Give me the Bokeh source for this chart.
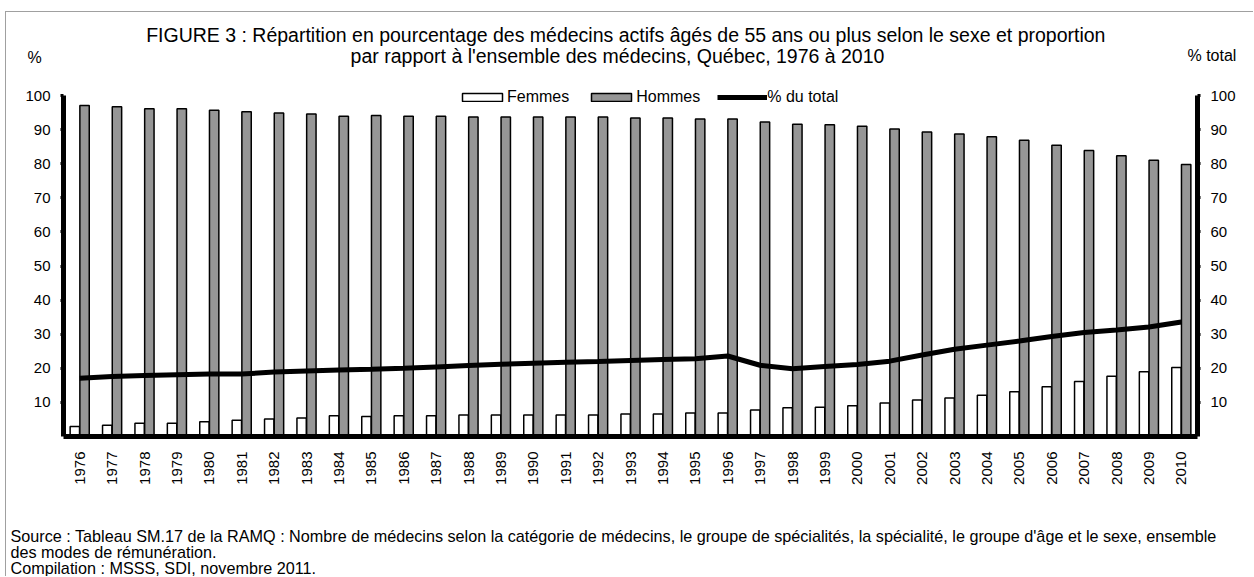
import math
from bokeh.plotting import figure
from bokeh.models import (ColumnDataSource, FactorRange, Range1d, LinearAxis,
                          FixedTicker, Label, Legend, LegendItem)
from bokeh.transform import dodge
from bokeh.embed import file_html
from bokeh.resources import INLINE

# ---------------- data ----------------
years = ["1976", "1977", "1978", "1979", "1980", "1981", "1982", "1983", "1984",
         "1985", "1986", "1987", "1988", "1989", "1990", "1991", "1992", "1993",
         "1994", "1995", "1996", "1997", "1998", "1999", "2000", "2001", "2002",
         "2003", "2004", "2005", "2006", "2007", "2008", "2009", "2010"]
femmes = [2.9, 3.3, 3.9, 3.9, 4.3, 4.8, 5.1, 5.4, 6.1, 5.9, 6.1, 6.1, 6.3, 6.3,
          6.3, 6.3, 6.3, 6.6, 6.6, 6.9, 6.9, 7.8, 8.4, 8.6, 9.0, 9.8, 10.7, 11.3,
          12.1, 13.1, 14.6, 16.1, 17.7, 19.0, 20.2]
hommes = [97.1, 96.7, 96.1, 96.1, 95.7, 95.2, 94.9, 94.6, 93.9, 94.1, 93.9, 93.9,
          93.7, 93.7, 93.7, 93.7, 93.7, 93.4, 93.4, 93.1, 93.1, 92.2, 91.6, 91.4,
          91.0, 90.2, 89.3, 88.7, 87.9, 86.9, 85.4, 83.9, 82.3, 81.0, 79.8]
total = [17.1, 17.6, 17.9, 18.1, 18.3, 18.3, 18.9, 19.2, 19.5, 19.7, 20.0, 20.4,
         20.8, 21.2, 21.5, 21.8, 22.0, 22.3, 22.6, 22.8, 23.6, 20.9, 19.9, 20.5,
         21.1, 22.1, 23.9, 25.6, 26.8, 28.0, 29.3, 30.5, 31.2, 32.1, 33.6]
y_ticks = [10, 20, 30, 40, 50, 60, 70, 80, 90, 100]

title1 = "FIGURE 3 : Répartition en pourcentage des médecins actifs âgés de 55 ans ou plus selon le sexe et  proportion"
title2 = "par rapport à l'ensemble des médecins, Québec, 1976 à 2010"
foot1 = ("Source :  Tableau SM.17 de la RAMQ : Nombre de médecins selon la catégorie de médecins, "
         "le groupe de spécialités, la spécialité, le groupe d'âge et le sexe, ensemble")
foot2 = "des modes de rémunération."
foot3 = "Compilation : MSSS, SDI, novembre 2011."

FONT = "Liberation Sans"
W = 1248  # inner width (page x 6..1254)
BORDER = "1px solid #a0a0a0"


def text_panel(h, y0, styles, margin):
    """Figure whose data coords equal page pixel coords (x 6..1254, y y0..y0+h)."""
    f = figure(width=W, height=h, x_range=Range1d(6, 6 + W),
               y_range=Range1d(y0 + h, y0), x_axis_type=None, y_axis_type=None,
               min_border=0, min_border_left=0, min_border_right=0,
               min_border_top=0, min_border_bottom=0,
               output_backend="svg", toolbar_location=None,
               styles=styles, margin=margin)
    f.outline_line_color = None
    f.xgrid.visible = False
    f.ygrid.visible = False
    return f


def lab(f, text, x, y, size, align="left"):
    f.add_layout(Label(x=x, y=y, text=text, text_font=FONT, text_font_size=size,
                       text_align=align, text_baseline="middle",
                       text_color="black"))


# ---------------- top panel (titles) ----------------
top = text_panel(70, 12, {"border-left": BORDER, "border-top": BORDER}, (11, 0, 0, 5))
lab(top, title1, 628, 34, "19.5px", "center")
lab(top, title2, 617, 55, "19.5px", "center")
lab(top, "%", 27, 57, "16px")
lab(top, "% total", 1187, 55, "16px")

# ---------------- main chart ----------------
src = ColumnDataSource(dict(year=years, femmes=femmes, hommes=hommes, total=total))
y_top = 100 + 10 / 3.41

p = figure(width=W, height=418,
           x_range=FactorRange(factors=years, range_padding=0),
           y_range=Range1d(0, y_top),
           output_backend="svg", toolbar_location=None,
           min_border_left=57, min_border_right=57,
           min_border_top=4, min_border_bottom=63,
           styles={"border-left": BORDER}, margin=(0, 0, 0, 5))
p.extra_y_ranges = {"total": Range1d(0, y_top)}
p.outline_line_color = None
p.xgrid.visible = False
p.ygrid.visible = False

rf = p.vbar(x=dodge("year", -0.15, range=p.x_range), top="femmes", width=0.29,
            source=src, fill_color="white", line_color="black", line_width=1.5)
rh = p.vbar(x=dodge("year", 0.15, range=p.x_range), top="hommes", width=0.29,
            source=src, fill_color="#969696", line_color="black", line_width=1.5)
rl = p.line(x="year", y="total", source=src, y_range_name="total",
            line_color="black", line_width=5)

xa = p.xaxis[0]
xa.axis_line_width = 5
xa.axis_line_color = "black"
xa.major_tick_line_color = None
xa.minor_tick_line_color = None
xa.major_label_orientation = math.pi / 2
xa.major_label_standoff = 9
xa.major_label_text_font = FONT
xa.major_label_text_font_size = "15px"
xa.major_label_text_color = "black"


def style_y(ax):
    ax.ticker = FixedTicker(ticks=y_ticks)
    ax.bounds = (0, 100)
    ax.axis_line_width = 5
    ax.axis_line_color = "black"
    ax.major_tick_out = 3
    ax.major_tick_in = 0
    ax.major_tick_line_width = 3
    ax.minor_tick_line_color = None
    ax.major_label_standoff = 10
    ax.major_label_text_font = FONT
    ax.major_label_text_font_size = "15px"
    ax.major_label_text_color = "black"


style_y(p.yaxis[0])
ra = LinearAxis(y_range_name="total")
style_y(ra)
p.add_layout(ra, "right")

legend = Legend(items=[LegendItem(label="Femmes", renderers=[rf]),
                       LegendItem(label="Hommes", renderers=[rh]),
                       LegendItem(label="% du total", renderers=[rl])],
                orientation="horizontal", location=(394, 330),
                glyph_width=50, glyph_height=10, label_standoff=0, spacing=17,
                padding=0, margin=0, border_line_color=None,
                background_fill_alpha=0,
                label_text_font=FONT, label_text_font_size="16px",
                label_text_color="black")
p.add_layout(legend)

# ---------------- bottom panel (sources) ----------------
bot = text_panel(77, 500, {"border-left": BORDER}, (0, 0, 0, 5))
lab(bot, foot1, 10, 536, "16.2px")
lab(bot, foot2, 10, 552, "16.2px")
lab(bot, foot3, 10, 568, "16.2px")

open("out.html", "w").write(file_html([top, p, bot], INLINE))
